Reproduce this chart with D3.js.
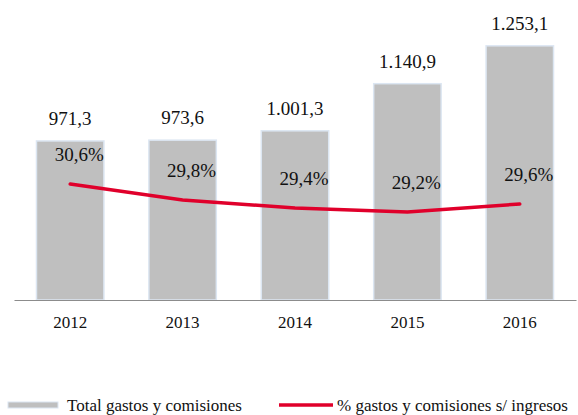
<!DOCTYPE html>
<html>
<head>
<meta charset="utf-8">
<script src="https://cdn.jsdelivr.net/npm/d3@7"></script>
<style>
  body { margin: 0; background: #fff; }
  #my_dataviz text { font-family: "Liberation Serif", "DejaVu Serif", serif; fill: #111; }
</style>
</head>
<body>
<div id="my_dataviz"></div>
<script>
var years = ["2012", "2013", "2014", "2015", "2016"];
var totals = [971.3, 973.6, 1001.3, 1140.9, 1253.1];
var totalLabels = ["971,3", "973,6", "1.001,3", "1.140,9", "1.253,1"];
var pcts = [30.6, 29.8, 29.4, 29.2, 29.6];
var pctLabels = ["30,6%", "29,8%", "29,4%", "29,2%", "29,6%"];
var legendNames = ["Total gastos y comisiones", "% gastos y comisiones s/ ingresos"];

function plot() {
    document.getElementById("my_dataviz").innerHTML = '';

    var width = 578, height = 415;
    var svg = d3.select("#my_dataviz")
        .append("svg")
            .attr("width", width)
            .attr("height", height);

    var data = years.map(function(y, i) {
        return {year: y, total: totals[i], tl: totalLabels[i], pct: pcts[i], pl: pctLabels[i]};
    });

    var xScale = d3.scaleBand()
        .domain(years)
        .range([14, 576])
        .paddingInner(0.4)
        .paddingOuter(0.2);

    // bar axis does not start at zero
    var yScale = d3.scaleLinear()
        .domain([500, 1300])
        .range([300, 30]);

    var yScaleR = d3.scaleLinear()
        .domain([24.8, 38.3])
        .range([300, 30]);

    // bars
    svg.selectAll("rect.bar")
        .data(data)
        .enter()
        .append("rect")
            .attr("class", "bar")
            .attr("x", function(d) { return xScale(d.year); })
            .attr("y", function(d) { return yScale(d.total); })
            .attr("width", xScale.bandwidth())
            .attr("height", function(d) { return 300 - yScale(d.total); })
            .attr("fill", "#bfbfbf")
            .attr("stroke", "#dce6f2")
            .attr("stroke-width", 1.5);

    // bottom axis
    var xAxis = svg.append("g")
        .attr("transform", "translate(0,300)")
        .call(d3.axisBottom(xScale).tickSize(0).tickPadding(16));
    xAxis.select(".domain").attr("stroke", "#8c8c8c").attr("stroke-width", 1.2);
    xAxis.selectAll("text")
        .style("font-size", "17px")
        .style("font-family", "Liberation Serif")
        .attr("fill", "#111");

    // value labels
    svg.selectAll("text.val")
        .data(data)
        .enter()
        .append("text")
            .attr("class", "val")
            .attr("x", function(d) { return xScale(d.year) + xScale.bandwidth() / 2; })
            .attr("y", function(d) { return yScale(d.total) - 16; })
            .attr("text-anchor", "middle")
            .style("font-size", "19px")
            .text(function(d) { return d.tl; });

    // percentage line
    svg.append("path")
        .datum(data)
        .attr("fill", "none")
        .attr("stroke", "#e0002b")
        .attr("stroke-width", 3.5)
        .attr("stroke-linecap", "round")
        .attr("d", d3.line()
            .x(function(d) { return xScale(d.year) + xScale.bandwidth() / 2; })
            .y(function(d) { return yScaleR(d.pct); }));

    svg.selectAll("text.pct")
        .data(data)
        .enter()
        .append("text")
            .attr("class", "pct")
            .attr("x", function(d) { return xScale(d.year) + xScale.bandwidth() / 2 + 9; })
            .attr("y", function(d) { return yScaleR(d.pct) - 23; })
            .attr("text-anchor", "middle")
            .style("font-size", "19px")
            .text(function(d) { return d.pl; });

    // legend
    var lg = svg.append("g");
    lg.append("rect")
        .attr("x", 8).attr("y", 402)
        .attr("width", 50).attr("height", 6)
        .attr("fill", "#bfbfbf")
        .attr("stroke", "#dce6f2")
        .attr("stroke-width", 1);
    lg.append("text")
        .attr("x", 67).attr("y", 411)
        .style("font-size", "17px")
        .text(legendNames[0]);
    lg.append("line")
        .attr("x1", 279).attr("x2", 333)
        .attr("y1", 405).attr("y2", 405)
        .attr("stroke", "#e0002b")
        .attr("stroke-width", 3.5);
    lg.append("text")
        .attr("x", 337).attr("y", 411)
        .style("font-size", "17px")
        .text(legendNames[1]);
}

window.addEventListener("load", plot);
</script>
</body>
</html>
